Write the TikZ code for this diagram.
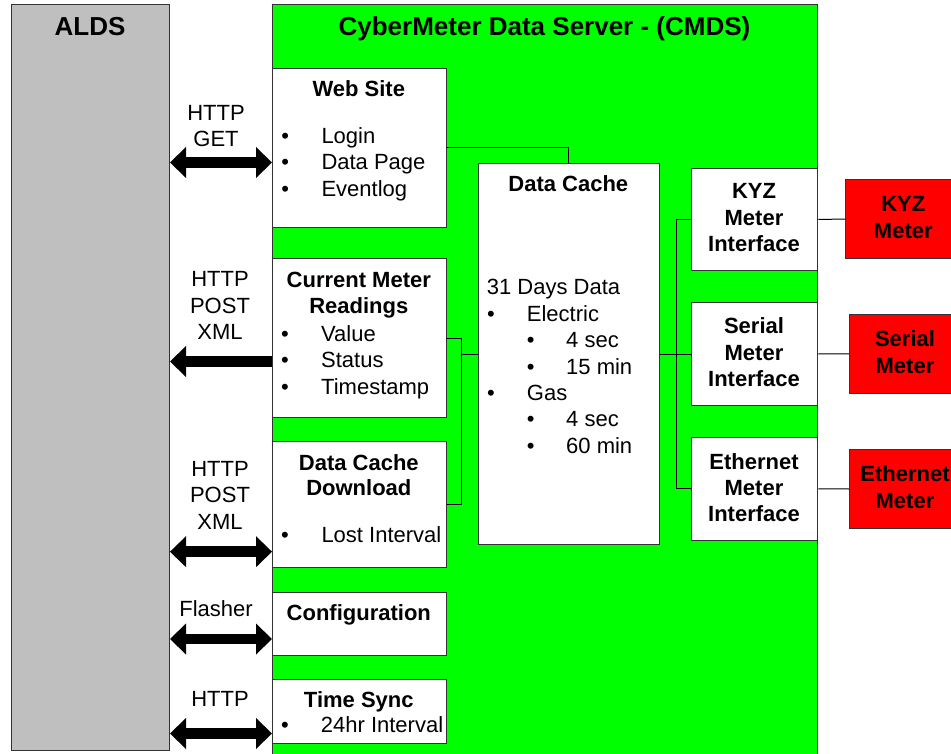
\documentclass[tikz,border=0pt]{standalone}
\usepackage{fontspec}
\setmainfont{Liberation Sans}
\usetikzlibrary{arrows.meta}
\newcommand{\bodysz}{\fontsize{22pt}{26.5pt}\selectfont}
\newcommand{\headsz}{\fontsize{22pt}{26.5pt}\selectfont\bfseries}
\newcommand{\titlesz}{\fontsize{26pt}{30pt}\selectfont\bfseries}
\tikzset{
  bigtip/.tip={Triangle[length=16pt 0 0,width=31pt 0 0,line width=0pt 0 0]},
  box/.style={draw=black!80, line width=1pt, fill=white, anchor=north west, inner sep=0pt, minimum width=#1},
  box/.default=173.7pt,
  tx/.style={inner sep=0pt, anchor=base, font=\bodysz},
  txl/.style={inner sep=0pt, anchor=base west, font=\bodysz},
  hd/.style={inner sep=0pt, anchor=base, font=\headsz},
  ttl/.style={inner sep=0pt, anchor=base, font=\titlesz},
  link/.style={draw=black, line width=1pt},
  dbl/.style={line width=10.5pt, bigtip-bigtip},
  sgl/.style={line width=10.5pt, -bigtip},
}
\begin{document}
\begin{tikzpicture}[x=1pt,y=-1pt]
\useasboundingbox (0,0) rectangle (951,754);
% main panels
\node[draw=black!80, line width=1pt, fill=black!25, anchor=north west, inner sep=0pt, minimum width=158pt, minimum height=746pt] (alds) at (11,4) {};
\node[draw=black!80, line width=1pt, fill=green, anchor=north west, inner sep=0pt, minimum width=545pt, minimum height=770pt] (cmds) at (272,4) {};
\node[ttl] (aldst) at (90,36) {ALDS};
\node[ttl] (cmdst) at (544.5,36) {CyberMeter Data Server - (CMDS)};
% left column boxes
\node[box, minimum height=159pt] (web) at (272,68) {};
\node[box, minimum height=159pt] (cmr) at (272,258) {};
\node[box, minimum height=126pt] (dcd) at (272,441) {};
\node[box, minimum height=63pt] (conf) at (272,592) {};
\node[box, minimum height=64pt] (tsync) at (272,679) {};
% data cache
\node[box=181.3pt, minimum height=381pt] (cache) at (477.7,163) {};
% interfaces
\node[box=126.6pt, minimum height=102.3pt] (kyzi) at (690.7,167.7) {};
\node[box=126.6pt, minimum height=103pt] (seri) at (690.7,302) {};
\node[box=126.6pt, minimum height=102.7pt] (ethi) at (690.7,437) {};
% meters
\node[box=116pt, fill=red, minimum height=79.3pt] (kyzm) at (845,179) {};
\node[box=112pt, fill=red, minimum height=79.3pt] (serm) at (849,313.7) {};
\node[box=112pt, fill=red, minimum height=79pt] (ethm) at (849,449) {};

% Web Site text
\node[hd] (webt) at (358.8,96.3) {Web Site};
\node[tx] (webb1) at (285.3,144) {•};
\node[tx] (webb2) at (285.3,169.7) {•};
\node[tx] (webb3) at (285.3,197) {•};
\node[txl] (webi1) at (321.3,144) {Login};
\node[txl] (webi2) at (321.3,169.7) {Data Page};
\node[txl] (webi3) at (321.3,197) {Eventlog};
% Current meter readings
\node[hd] (cmrt1) at (358.8,287.7) {Current Meter};
\node[hd] (cmrt2) at (358.8,313.3) {Readings};
\node[tx] (cmrb1) at (285,341.7) {•};
\node[tx] (cmrb2) at (285,367.3) {•};
\node[tx] (cmrb3) at (285,394) {•};
\node[txl] (cmri1) at (321,341.7) {Value};
\node[txl] (cmri2) at (321,367.3) {Status};
\node[txl] (cmri3) at (321,394) {Timestamp};
% Data cache download
\node[hd] (dcdt1) at (358.8,470.7) {Data Cache};
\node[hd] (dcdt2) at (358.8,495) {Download};
\node[tx] (dcdb1) at (285,542.7) {•};
\node[txl] (dcdi1) at (321.3,542.7) {Lost Interval};
% Configuration
\node[hd] (conft) at (358.8,620) {Configuration};
% Time sync
\node[hd] (tsynct) at (358.8,707.3) {Time Sync};
\node[tx] (tsyncb1) at (285,732.7) {•};
\node[txl] (tsynci1) at (320.7,732.7) {24hr Interval};
% Data cache text
\node[hd] (cachet) at (568.3,191.7) {Data Cache};
\node[txl] (cache0) at (486.7,294.3) {31 Days Data};
\node[tx] (cacheb1) at (491,321.7) {•};
\node[txl] (cachei1) at (526.7,321.7) {Electric};
\node[tx] (cacheb2) at (530.7,347.7) {•};
\node[txl] (cachei2) at (566,347.7) {4 sec};
\node[tx] (cacheb3) at (530.7,374.3) {•};
\node[txl] (cachei3) at (566,374.3) {15 min};
\node[tx] (cacheb4) at (491,400.7) {•};
\node[txl] (cachei4) at (526.7,400.7) {Gas};
\node[tx] (cacheb5) at (530.7,426.7) {•};
\node[txl] (cachei5) at (566,426.7) {4 sec};
\node[tx] (cacheb6) at (530.7,453.3) {•};
\node[txl] (cachei6) at (566,453.3) {60 min};
% interface text
\node[hd] (kyzit1) at (754,198.3) {KYZ};
\node[hd] (kyzit2) at (754,225.7) {Meter};
\node[hd] (kyzit3) at (754,251.7) {Interface};
\node[hd] (serit1) at (754,333.3) {Serial};
\node[hd] (serit2) at (754,360) {Meter};
\node[hd] (serit3) at (754,386.7) {Interface};
\node[hd] (ethit1) at (754,469) {Ethernet};
\node[hd] (ethit2) at (754,495) {Meter};
\node[hd] (ethit3) at (754,521.7) {Interface};
% meter text
\node[hd] (kyzmt1) at (903.3,211.7) {KYZ};
\node[hd] (kyzmt2) at (903.3,238.3) {Meter};
\node[hd] (sermt1) at (905,346.7) {Serial};
\node[hd] (sermt2) at (905,373.3) {Meter};
\node[hd] (ethmt1) at (905,481.7) {Ethernet};
\node[hd] (ethmt2) at (905,508.3) {Meter};
% protocol labels
\node[tx] (l1a) at (216,120.7) {HTTP};
\node[tx] (l1b) at (216,146.7) {GET};
\node[tx] (l2a) at (220,286.7) {HTTP};
\node[tx] (l2b) at (220,313.3) {POST};
\node[tx] (l2c) at (220,339.3) {XML};
\node[tx] (l3a) at (220,476.7) {HTTP};
\node[tx] (l3b) at (220,502.7) {POST};
\node[tx] (l3c) at (220,529.3) {XML};
\node[tx] (l4a) at (216,616) {Flasher};
\node[tx] (l5a) at (220,706.7) {HTTP};

% internal connectors
\coordinate (bx) at (461,0);
\coordinate (by) at (676,0);
\draw[link] (web.east) -| (cache.north);
\draw[link] (cmr.east) -- (cmr.east -| bx) -- (dcd.east -| bx) -- (dcd.east);
\draw[link] (cache.west -| bx) -- (cache.west);
\draw[link] (kyzi.west) -- (kyzi.west -| by) -- (ethi.west -| by) -- (ethi.west);
\draw[link] (cache.east) -- (seri.west);
\draw[link] (kyzi.east) -- (kyzm.west);
\draw[link] (seri.east) -- (serm.west);
\draw[link] (ethi.east) -- (ethm.west);

% big arrows
\coordinate (ya) at (0,162.5);
\coordinate (yb) at (0,361.5);
\coordinate (yc) at (0,551.7);
\coordinate (yd) at (0,639);
\coordinate (ye) at (0,733.5);
\draw[dbl] (alds.east |- ya) -- (web.west |- ya);
\draw[sgl] (cmr.west |- yb) -- (alds.east |- yb);
\draw[dbl] (alds.east |- yc) -- (dcd.west |- yc);
\draw[dbl] (alds.east |- yd) -- (conf.west |- yd);
\draw[dbl] (alds.east |- ye) -- (tsync.west |- ye);
\end{tikzpicture}
\end{document}
